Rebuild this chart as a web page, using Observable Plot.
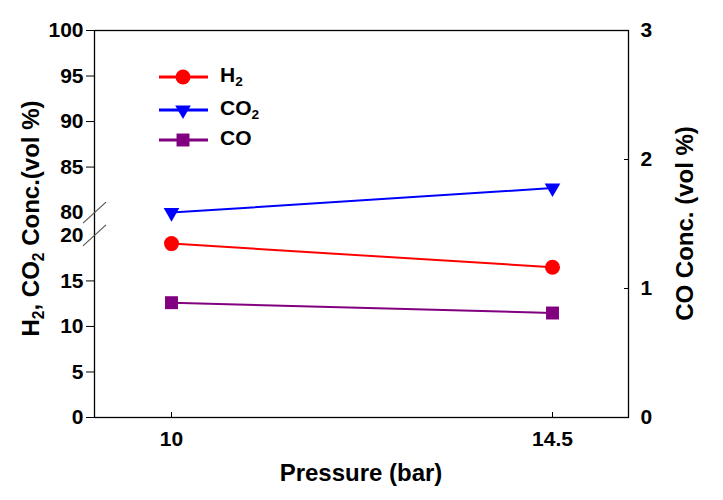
<!DOCTYPE html>
<html>
<head>
<meta charset="utf-8">
<script src="https://cdn.jsdelivr.net/npm/d3@7"></script>
<script src="https://cdn.jsdelivr.net/npm/@observablehq/plot@0.6"></script>
<style>
  body { margin: 0; background: #fff; }
  svg text { font-family: "Liberation Sans", Arial, sans-serif; font-weight: bold; }
</style>
</head>
<body>
<div id="chart"></div>
<script>
// ---- data ----
const pressures = ["10", "14.5"];
const h2 = [19.1, 16.5];      // vol %, left axis (lower segment)
const co2 = [80.0, 82.7];     // vol %, left axis (upper segment)
const co = [0.89, 0.81];      // vol %, right axis
const leftTicksLower = [0, 5, 10, 15, 20];
const leftTicksUpper = [80, 85, 90, 95, 100];
const rightTicks = [0, 1, 2, 3];
const seriesNames = ["H2", "CO2", "CO"];
const colors = ["#ff0000", "#0000ff", "#800080"];

// ---- broken-axis mapping: 0..20 and 80..100 onto one virtual scale ----
const GAP = 2.5;
const toV = v => v <= 20 ? v : v - 80 + 20 + GAP;
const fromV = v => v <= 20 ? v : v - 20 - GAP + 80;
const VMAX = toV(100);
const coToV = c => c * VMAX / 3;
const vToCo = v => Math.round(v * 3 / VMAX);

const rows = [];
pressures.forEach((p, i) => {
  rows.push({p, s: "H2", v: toV(h2[i])});
  rows.push({p, s: "CO2", v: toV(co2[i])});
  rows.push({p, s: "CO", v: coToV(co[i])});
});
const bySeries = s => rows.filter(d => d.s === s);

const fontSize = 21;
const plot = Plot.plot({
  width: 723,
  height: 500,
  marginLeft: 94,
  marginRight: 95,
  marginTop: 30,
  marginBottom: 83,
  style: {fontFamily: "Liberation Sans, Arial, sans-serif", fontSize: fontSize + "px", fontWeight: "bold", color: "#000"},
  x: {type: "point", domain: pressures, padding: 0.2, label: null},
  y: {domain: [0, VMAX], label: null},
  marks: [
    Plot.frame({stroke: "#000", strokeWidth: 1.3}),
    // bottom axis: inward ticks + labels
    Plot.axisX({ticks: pressures, tickSize: 5, dy: -5, tickFormat: () => "", label: null}),
    Plot.axisX({ticks: pressures, tickSize: 0, tickPadding: 14, label: null, fontSize: fontSize}),
    // left axis: outward ticks (not at break) + labels
    Plot.axisY({anchor: "left", ticks: leftTicksLower.concat(leftTicksUpper).filter(v => v !== 20 && v !== 80).map(toV), tickSize: 8, tickPadding: 3, tickFormat: v => String(fromV(v)), label: null, fontSize: fontSize}),
    Plot.axisY({anchor: "left", ticks: [20, 80].map(toV), tickSize: 0, tickPadding: 11, tickFormat: v => String(fromV(v)), label: null, fontSize: fontSize}),
    // right axis: inward ticks + labels
    Plot.axisY({anchor: "right", ticks: rightTicks.map(coToV), tickSize: 5, dx: -5, tickFormat: () => "", label: null}),
    Plot.axisY({anchor: "right", ticks: rightTicks.map(coToV), tickSize: 0, tickPadding: 12, tickFormat: v => String(vToCo(v)), label: null, fontSize: fontSize}),
    // series
    Plot.line(bySeries("H2"), {x: "p", y: "v", stroke: colors[0], strokeWidth: 2}),
    Plot.line(bySeries("CO2"), {x: "p", y: "v", stroke: colors[1], strokeWidth: 2}),
    Plot.line(bySeries("CO"), {x: "p", y: "v", stroke: colors[2], strokeWidth: 2}),
    Plot.dot(bySeries("H2"), {x: "p", y: "v", fill: colors[0], r: 7.5, symbol: "circle"}),
    Plot.dot(bySeries("CO2"), {x: "p", y: "v", fill: colors[1], r: 5.8, symbol: "triangle", rotate: 180}),
    Plot.dot(bySeries("CO"), {x: "p", y: "v", fill: colors[2], r: 7.3, symbol: "square"})
  ]
});
document.getElementById("chart").appendChild(plot);

// ---- annotations: break marks, axis titles, legend ----
const svg = d3.select(plot);
const ys = plot.scale("y");
const xLeft = 94, xRight = 723 - 95, yBottom = 500 - 83, yTop = 30;

[20, 80].forEach(v => {
  const y = ys.apply(toV(v));
  svg.append("line")
    .attr("x1", xLeft - 11).attr("y1", y + 11)
    .attr("x2", xLeft + 12).attr("y2", y - 10)
    .attr("stroke", "#555").attr("stroke-width", 1.2);
});

const sub = (t, parts) => {
  let last = false;
  parts.forEach(([s, isSub]) => {
    const ts = t.append("tspan").text(s);
    if (isSub) ts.attr("font-size", "0.65em").attr("dy", "0.3em");
    else if (last) ts.attr("dy", "-0.195em");
    last = isSub;
  });
};

// left title
const lt = svg.append("text")
  .attr("transform", `translate(39,${(yTop + yBottom) / 2 - 5}) rotate(-90)`)
  .attr("text-anchor", "middle").attr("font-size", 24);
sub(lt, [["H", false], ["2", true], [", CO", false], ["2", true], [" Conc.(vol %)", false]]);

// right title
svg.append("text")
  .attr("transform", `translate(693,${(yTop + yBottom) / 2}) rotate(-90)`)
  .attr("text-anchor", "middle").attr("font-size", 24)
  .text("CO Conc. (vol %)");

// bottom title
svg.append("text")
  .attr("x", (xLeft + xRight) / 2).attr("y", 481)
  .attr("text-anchor", "middle").attr("font-size", 24)
  .text("Pressure (bar)");

// legend
const legendLabels = [[["H", false], ["2", true]], [["CO", false], ["2", true]], [["CO", false]]];
const legendY = [77, 110, 140];
const symbols = [d3.symbolCircle, d3.symbolTriangle, d3.symbolSquare];
const symSizes = [Math.PI * 7.5 * 7.5, Math.PI * 5.8 * 5.8, Math.PI * 7.3 * 7.3];
const symRot = [0, 180, 0];
seriesNames.forEach((s, i) => {
  const g = svg.append("g").attr("transform", `translate(0,${legendY[i]})`);
  g.append("line").attr("x1", 159).attr("x2", 208).attr("y1", 0).attr("y2", 0)
    .attr("stroke", colors[i]).attr("stroke-width", 3);
  g.append("path").attr("d", d3.symbol(symbols[i], symSizes[i])())
    .attr("transform", `translate(183,0) rotate(${symRot[i]})`).attr("fill", colors[i]);
  const t = g.append("text").attr("x", 220).attr("y", 5)
    .attr("text-anchor", "start").attr("font-size", 21);
  sub(t, legendLabels[i]);
});
</script>
</body>
</html>
